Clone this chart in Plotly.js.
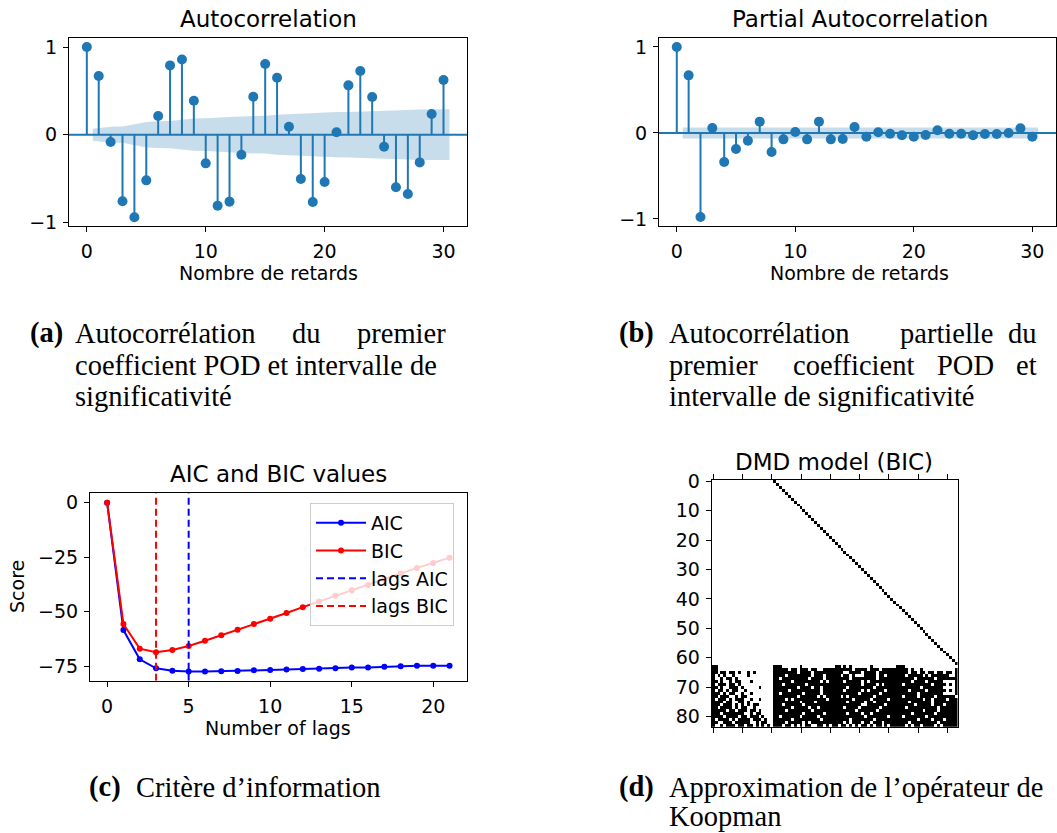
<!DOCTYPE html>
<html><head><meta charset="utf-8">
<script src="https://cdn.plot.ly/plotly-3.0.1.min.js"></script>
<style>html,body{margin:0;padding:0;background:#fff}#chart{width:1057px;height:833px}</style>
</head><body><div id="chart"></div><script>
// ---------- DATA ----------
const acfLags = [0,1,2,3,4,5,6,7,8,9,10,11,12,13,14,15,16,17,18,19,20,21,22,23,24,25,26,27,28,29,30];
const acfValues = [1.0,0.669,-0.084,-0.76,-0.943,-0.521,0.213,0.791,0.859,0.388,-0.327,-0.81,-0.764,-0.228,0.433,0.806,0.65,0.091,-0.506,-0.768,-0.54,0.027,0.563,0.726,0.43,-0.137,-0.60,-0.677,-0.316,0.236,0.624];
// half-width of the confidence band, lags 1..30
const acfBand = [0.068,0.092,0.093,0.118,0.146,0.152,0.155,0.170,0.184,0.187,0.190,0.201,0.209,0.211,0.216,0.228,0.235,0.236,0.243,0.253,0.258,0.259,0.265,0.273,0.276,0.278,0.283,0.288,0.289,0.290];
const pacfValues = [1.0,0.67,-0.977,0.058,-0.337,-0.186,-0.089,0.132,-0.221,-0.074,0.012,-0.074,0.132,-0.074,-0.07,0.07,-0.043,0.008,-0.008,-0.027,-0.043,-0.023,0.031,-0.008,-0.008,-0.027,-0.012,-0.012,0.0,0.054,-0.043];
const pacfBand = [0.064,0.064,0.064,0.064,0.064,0.064,0.064,0.064,0.064,0.064,0.064,0.064,0.064,0.064,0.064,0.064,0.064,0.064,0.064,0.064,0.064,0.064,0.064,0.064,0.064,0.064,0.064,0.064,0.064,0.064];

const icLags = [0,1,2,3,4,5,6,7,8,9,10,11,12,13,14,15,16,17,18,19,20,21];
const aicValues = [0,-58.4,-71.8,-75.9,-77.0,-77.4,-77.4,-77.3,-77.1,-76.8,-76.7,-76.5,-76.2,-76.1,-75.9,-75.6,-75.5,-75.2,-75.0,-74.8,-74.7,-74.7];
const bicValues = [0,-55.6,-66.9,-68.6,-67.5,-65.7,-63.3,-60.8,-58.2,-55.6,-53.2,-50.6,-47.9,-45.3,-42.7,-40.1,-37.7,-35.1,-32.5,-29.9,-27.6,-25.2];
const bestLagAIC = 5;
const bestLagBIC = 3;

// DMD operator (84 x 84): shift block + last 21 rows of coefficients (# = nonzero)
const dmdOrder = 84;
const dmdDelay = 21;
const dmdBlockA = [
"##...................",
"##...................",
"##.##.##.#..#.#......",
"#.#.#..#....#........",
"#..#.##.#............",
"##.#..#.##...#.......",
"#.###.##.#...........",
"##.#..###.#.....#....",
"#.##.#.##..#.........",
"###.#.##..#..#.......",
"##.###..#.##.........",
"#.###.#.###..#..#....",
"####.##..##.#........",
"###.###.#.#.#.##.....",
"##.####.#.##..#......",
"#####.##.###.##.#....",
"###.#######..#.##....",
"####.####.##.###.#...",
"#.####.#.####.###.#..",
"##..###.#####..#.##..",
"#..#.###.##.##.#.#.#."];
const dmdBlockB = [
"###......#...........",
"#####.##.###.##..####",
"########.####.#######",
"####.########.###.###",
"##.#########.####.###",
"######.#########.#.##",
"###.#######.#########",
"########.####.##.####",
"#####.##########.####",
"##.#######.#####.####",
"########.######.#.###",
"####.#.###########.##",
"#########.####.######",
"###.######.##########",
"######.#####.##.#####",
"####.########.#######",
"##########.######.###",
"##.######.#####.#####",
"######.#########.####",
"####.#####.#.########",
"###.##.#.#.##..##.#.#"];
const dmdBlockC = [
"##.#.#......#........",
"######.####.###.#####",
"###..####.####.######",
"##.##.#...####.##.###",
"#####.########.######",
"###.#####.#.#########",
"#########.####.#.####",
"####.########.#######",
"###.#####.#.#####.###",
"########.######.#####",
"##.#.########.#######",
"######.#####.#####.##",
"####.#####.##.#######",
"#########..######.###",
"###.####.######.#####",
"#######.######.######",
"####.####.##.########",
"##########.#######.##",
"#####.#######.#######",
"###.#.###.##.###.####",
"#.##.#.#.##.#.##.#.##"];
const dmdBlockD = [
"###..................",
"####.#..#...........#",
"####.##.##.##.##.##.#",
"###.#####.#.######..#",
"######.######.#######",
"#####.####.#####....#",
"##.#########.####.#.#",
"########.#######....#",
"####.#####.######.#.#",
"#######.########....#",
"##.####.#####.######.",
"#########.##.####.###",
"####.#######.########",
"######.#####.###.####",
"###.##########.######",
"#########.####.######",
"#####.#######.#######",
"##.#######.##########",
"#######.####.###.####",
"####.#########.######",
"###.#.##.####.#.#####"];

// ---------- BUILD ----------
const W = 1057, H = 833;
const fx = p => p / W;
const fy = p => 1 - p / H;
const BLUE = '#1f77b4';
const sans = 'DejaVu Sans, sans-serif';
const serif = 'Liberation Serif, serif';

function stems(lags, vals, xa, ya) {
  const x = [], y = [];
  lags.forEach((l, i) => { x.push(l, l, null); y.push(0, vals[i], null); });
  return {x, y, xaxis: xa, yaxis: ya, mode: 'lines', type: 'scatter',
    line: {color: BLUE, width: 2}, showlegend: false, hoverinfo: 'skip'};
}
function bandTraces(lags, band, xa, ya) {
  const bl = lags.slice(1);
  const bx = bl.map((l, i) => i === 0 ? l - 0.5 : (i === bl.length - 1 ? l + 0.5 : l));
  return [
    {x: bx, y: band.map(v => -v), xaxis: xa, yaxis: ya, mode: 'lines', type: 'scatter',
      line: {width: 0, color: 'rgba(0,0,0,0)'}, showlegend: false, hoverinfo: 'skip'},
    {x: bx, y: band, xaxis: xa, yaxis: ya, mode: 'lines', type: 'scatter', fill: 'tonexty',
      fillcolor: 'rgba(31,119,180,0.25)', line: {width: 0, color: 'rgba(0,0,0,0)'},
      showlegend: false, hoverinfo: 'skip'}
  ];
}
function dots(lags, vals, xa, ya) {
  return {x: lags, y: vals, xaxis: xa, yaxis: ya, mode: 'markers', type: 'scatter',
    marker: {color: BLUE, size: 10}, showlegend: false};
}

// DMD matrix
const z = [];
for (let r = 0; r < dmdOrder; r++) {
  let row = new Array(dmdOrder).fill(0);
  if (r < dmdOrder - dmdDelay) {
    row[r + dmdDelay] = 1;
  } else {
    const k = r - (dmdOrder - dmdDelay);
    const s = [dmdBlockA, dmdBlockB, dmdBlockC, dmdBlockD]
      .map(b => b[k].padEnd(dmdDelay, '.').slice(0, dmdDelay)).join('');
    row = s.split('').map(c => c === '#' ? 1 : 0);
  }
  z.push(row);
}

const traces = [];
traces.push(...bandTraces(acfLags, acfBand, 'x', 'y'));
traces.push({x: [-5, 40], y: [0, 0], xaxis: 'x', yaxis: 'y', mode: 'lines', type: 'scatter', line: {color: BLUE, width: 2}, showlegend: false, hoverinfo: 'skip'});
traces.push(stems(acfLags, acfValues, 'x', 'y'));
traces.push(dots(acfLags, acfValues, 'x', 'y'));

traces.push(...bandTraces(acfLags, pacfBand, 'x2', 'y2'));
traces.push({x: [-5, 40], y: [0, 0], xaxis: 'x2', yaxis: 'y2', mode: 'lines', type: 'scatter', line: {color: BLUE, width: 2}, showlegend: false, hoverinfo: 'skip'});
traces.push(stems(acfLags, pacfValues, 'x2', 'y2'));
traces.push(dots(acfLags, pacfValues, 'x2', 'y2'));

const icRange = [-81.6, 4.3];
traces.push({x: icLags, y: aicValues, xaxis: 'x3', yaxis: 'y3', mode: 'lines+markers', type: 'scatter', name: 'AIC',
  line: {color: '#0000ff', width: 2}, marker: {color: '#0000ff', size: 6}});
traces.push({x: icLags, y: bicValues, xaxis: 'x3', yaxis: 'y3', mode: 'lines+markers', type: 'scatter', name: 'BIC',
  line: {color: '#ff0000', width: 2}, marker: {color: '#ff0000', size: 6}});
traces.push({x: [bestLagAIC, bestLagAIC], y: icRange, xaxis: 'x3', yaxis: 'y3', mode: 'lines', type: 'scatter', name: 'lags AIC',
  line: {color: '#0000ff', width: 2, dash: '7px,4px'}});
traces.push({x: [bestLagBIC, bestLagBIC], y: icRange, xaxis: 'x3', yaxis: 'y3', mode: 'lines', type: 'scatter', name: 'lags BIC',
  line: {color: '#ff0000', width: 2, dash: '7px,4px'}});

traces.push({z: z, type: 'heatmap', xaxis: 'x4', yaxis: 'y4', colorscale: [[0, '#ffffff'], [1, '#000000']],
  zmin: 0, zmax: 1, showscale: false, zsmooth: false, hoverinfo: 'skip'});

const tickFont = {family: sans, size: 19, color: '#000'};
function ax(extra) {
  return Object.assign({showline: true, mirror: true, linecolor: '#000', linewidth: 1, showgrid: false, zeroline: false,
    ticks: 'outside', ticklen: 5, tickwidth: 1, tickcolor: '#000', tickfont: tickFont, fixedrange: true}, extra);
}

const layout = {
  width: W, height: H, margin: {l: 0, r: 0, t: 0, b: 0}, paper_bgcolor: '#fff', plot_bgcolor: '#fff',
  showlegend: true,
  xaxis: ax({domain: [fx(69), fx(467.3)], range: [-1.5, 32], tickvals: [0, 10, 20, 30], anchor: 'y', ticklabelstandoff: 3}),
  yaxis: ax({domain: [fy(226), fy(38.3)], range: [-1.042, 1.1], tickvals: [-1, 0, 1], anchor: 'x', ticklabelstandoff: 2}),
  xaxis2: ax({domain: [fx(659), fx(1056)], range: [-1.5, 32], tickvals: [0, 10, 20, 30], anchor: 'y2', ticklabelstandoff: 3}),
  yaxis2: ax({domain: [fy(225.7), fy(38.3)], range: [-1.078, 1.101], tickvals: [-1, 0, 1], anchor: 'x2', ticklabelstandoff: 2}),
  xaxis3: ax({domain: [fx(90), fx(466.7)], range: [-1.05, 22.05], tickvals: [0, 5, 10, 15, 20], anchor: 'y3', ticklabelstandoff: 3}),
  yaxis3: ax({domain: [fy(680.7), fy(493.3)], range: icRange, tickvals: [-75, -50, -25, 0], anchor: 'x3', ticklabelstandoff: 2}),
  xaxis4: ax({domain: [fx(711.7), fx(957.7)], range: [-0.5, 83.5], tickvals: [0, 10, 20, 30, 40, 50, 60, 70, 80], anchor: 'y4', showticklabels: false, mirror: 'ticks'}),
  yaxis4: ax({domain: [fy(726.7), fy(480)], range: [83.5, -0.5], tickvals: [0, 10, 20, 30, 40, 50, 60, 70, 80], anchor: 'x4', ticklabelstandoff: 2}),
  legend: {x: fx(310), y: fy(503), xanchor: 'left', yanchor: 'top', bgcolor: 'rgba(255,255,255,0.8)', traceorder: 'normal',
    bordercolor: '#cccccc', borderwidth: 1, font: {family: sans, size: 19, color: '#000'}, tracegroupgap: 0, itemwidth: 50},
  annotations: []
};

function txt(text, x, y, opts) {
  layout.annotations.push(Object.assign({text: text, x: fx(x), y: fy(y), xref: 'paper', yref: 'paper',
    showarrow: false, xanchor: 'center', yanchor: 'middle', font: {family: sans, size: 19, color: '#000'}}, opts || {}));
}
const titleFont = {family: sans, size: 23, color: '#000'};
txt('Autocorrelation', 268, 19, {font: titleFont});
txt('Partial Autocorrelation', 860, 19, {font: titleFont});
txt('AIC and BIC values', 278, 474, {font: titleFont});
txt('DMD model (BIC)', 834, 462, {font: titleFont});
txt('Nombre de retards', 268.5, 273);
txt('Nombre de retards', 859.3, 273);
txt('Number of lags', 278, 728);
txt('Score', 17, 587, {textangle: -90});

const capFont = {family: serif, size: 28.5, color: '#000'};
const capL = (t, x, y) => txt(t, x, y, {xanchor: 'left', font: capFont});
const capC = (t, x, y) => txt(t, x, y, {xanchor: 'center', font: capFont});
const capR = (t, x, y) => txt(t, x, y, {xanchor: 'right', font: capFont});
// (a)
capL('<b>(a)</b>', 28, 333); capL('Autocorrélation', 73, 333); capC('du', 306, 333); capR('premier', 448, 333);
capL('coefficient POD et intervalle de', 73, 365);
capL('significativité', 73, 396);
// (b)
capL('<b>(b)</b>', 617, 333); capL('Autocorrélation', 667, 333); capC('partielle', 946, 333); capR('du', 1039, 333);
capL('premier', 667, 365); capC('coefficient', 853, 365); capC('POD', 965, 365); capR('et', 1039, 365);
capL('intervalle de significativité', 667, 396);
// (c)
capL('<b>(c)</b>', 87, 787); capL('Critère d’information', 134, 787);
// (d)
capL('<b>(d)</b>', 617, 787); capL('Approximation de l’opérateur de', 667, 787);
capL('Koopman', 667, 816);

Plotly.newPlot('chart', traces, layout, {staticPlot: true, displayModeBar: false});
</script></body></html>
